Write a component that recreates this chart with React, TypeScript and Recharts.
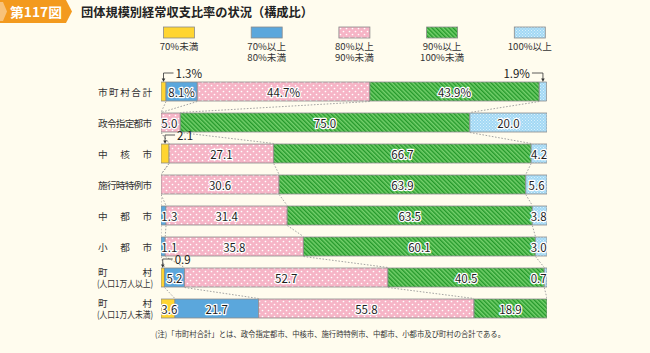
import React from 'react';
import { BarChart, Bar, XAxis, YAxis } from 'recharts';

// ---------------- data ----------------
const categories = [
  '市町村合計',
  '政令指定都市',
  '中核市',
  '施行時特例市',
  '中都市',
  '小都市',
  '町村(人口1万人以上)',
  '町村(人口1万人未満)',
];
const under70 = [1.3, 0, 2.1, 0, 0, 0, 0.9, 3.6];
const from70to80 = [8.1, 0, 0, 0, 1.3, 1.1, 5.2, 21.7];
const from80to90 = [44.7, 5.0, 27.1, 30.6, 31.4, 35.8, 52.7, 55.8];
const from90to100 = [43.9, 75.0, 66.7, 63.9, 63.5, 60.1, 40.5, 18.9];
const over100 = [1.9, 20.0, 4.2, 5.6, 3.8, 3.0, 0.7, 0];

const seriesKeys = ['u70', 'r70', 'r80', 'r90', 'o100'];
const seriesNames = [
  ['70%未満'],
  ['70%以上', '80%未満'],
  ['80%以上', '90%未満'],
  ['90%以上', '100%未満'],
  ['100%以上'],
];
const seriesFills = ['#FFD531', '#5BA7DC', 'pink', 'green', 'sky'];
// values shown as call-outs above the bar: [series, row]
const callouts = [
  [0, 0],
  [4, 0],
  [0, 2],
  [0, 6],
];
const percentRow = 0;

const titleNo = '第117図';
const titleText = '団体規模別経常収支比率の状況（構成比）';
const noteText = '(注)「市町村合計」とは、政令指定都市、中核市、施行時特例市、中都市、小都市及び町村の合計である。';

const seriesValues = [under70, from70to80, from80to90, from90to100, over100];

const rows = categories.map((name, i) => {
  const row: any = { name };
  seriesKeys.forEach((k, s) => (row[k] = seriesValues[s][i]));
  row.total = seriesValues.reduce((a, s) => a + s[i], 0);
  return row;
});

// ---------------- layout ----------------
const W = 650;
const H = 353;
const MARGIN = { top: 76, right: 103, bottom: 29, left: 98 };
const AXIS_W = 63;
const BAR_SIZE = 19;
const BAND = (H - MARGIN.top - MARGIN.bottom) / categories.length;
const FONT = "'Noto Sans CJK JP', 'Noto Sans', sans-serif";
const BG = '#FFFCEE';

function Patterns({ p }: { p: string }) {
  return (
    <defs>
      <pattern id={`${p}pink`} width={6} height={6} patternUnits="userSpaceOnUse">
        <rect width={6} height={6} fill="#F6B4C6" />
        <circle cx={1.5} cy={1.5} r={0.85} fill="#FFFFFF" />
        <circle cx={4.5} cy={4.5} r={0.85} fill="#FFFFFF" />
      </pattern>
      <pattern id={`${p}green`} width={3} height={3} patternUnits="userSpaceOnUse" patternTransform="rotate(-45)">
        <rect width={3} height={3} fill="#74D06C" />
        <rect width={1.4} height={3} fill="#24982A" />
      </pattern>
      <pattern id={`${p}sky`} width={3} height={3} patternUnits="userSpaceOnUse">
        <rect width={3} height={3} fill="#A2D8F4" />
        <rect x={0} y={0} width={1} height={1} fill="#D9F1FC" />
        <rect x={1.5} y={1.5} width={1} height={1} fill="#D9F1FC" />
      </pattern>
    </defs>
  );
}

const fillFor = (s: number, p: string) => {
  const f = seriesFills[s];
  return f.startsWith('#') ? f : `url(#${p}${f})`;
};

function fmt(v: number, row: number) {
  return v.toFixed(1) + (row === percentRow ? '%' : '');
}

function isCallout(s: number, r: number) {
  return callouts.some(([cs, cr]) => cs === s && cr === r);
}

// overlay drawn on top of all stacked segments: labels, connectors, call-outs
function Overlay(props: any) {
  const { x, y, width, height, index } = props;
  const vals = seriesValues.map((s) => s[index]);
  const total = vals.reduce((a, b) => a + b, 0);
  if (!(width > 0) || !total) return null;
  const ppu = width / total;
  const cum: number[] = [];
  vals.reduce((a, b, k) => ((cum[k] = a + b), a + b), 0);
  const els: any[] = [];

  // connectors to next row
  if (index < categories.length - 1) {
    const nv = seriesValues.map((s) => s[index + 1]);
    const ncum: number[] = [];
    nv.reduce((a, b, k) => ((ncum[k] = a + b), a + b), 0);
    for (let k = 0; k < 4; k++) {
      els.push(
        <line
          key={`c${k}`}
          x1={x + cum[k] * ppu}
          y1={y + height + 0.5}
          x2={x + ncum[k] * ppu}
          y2={y + BAND - 0.5}
          stroke="#9A9A9A"
          strokeWidth={0.9}
          strokeDasharray="1.6 1.6"
        />
      );
    }
  }

  const nonzero = vals.map((v, k) => (v > 0 ? k : -1)).filter((k) => k >= 0);
  const first = nonzero[0];
  const last = nonzero[nonzero.length - 1];
  const fs = 11.5;
  vals.forEach((v, k) => {
    if (!(v > 0)) return;
    const start = x + (cum[k] - v) * ppu;
    const w = v * ppu;
    const label = fmt(v, index);
    if (isCallout(k, index)) {
      const cx = start + w / 2;
      const ly = y - 9;
      const left = k !== last;
      const hx = left ? cx + 10 : cx - 11;
      els.push(
        <g key={`co${k}`}>
          <polyline points={`${hx},${ly} ${cx},${ly} ${cx},${y - 3}`} fill="none" stroke="#333" strokeWidth={0.8} />
          <polygon points={`${cx - 1.8},${y - 3.5} ${cx + 1.8},${y - 3.5} ${cx},${y - 0.3}`} fill="#333" />
          <text
            x={left ? hx + 2 : hx - 2}
            y={ly}
            dominantBaseline="central"
            textAnchor={left ? 'start' : 'end'}
            fontSize={fs}
            fontFamily={FONT}
            fill="#222"
          >
            {label}
          </text>
        </g>
      );
      return;
    }
    const tw = label.length * 6.2;
    let anchor = 'middle';
    let tx = start + w / 2;
    if (w < tw + 2) {
      if (k === first) {
        anchor = 'start';
        tx = start + 0.3;
      } else if (k === last) {
        anchor = 'end';
        tx = start + w - 0.3;
      }
    }
    els.push(
      <text
        key={`l${k}`}
        x={tx}
        y={y + height / 2 + 0.5}
        dominantBaseline="central"
        textAnchor={anchor}
        fontSize={fs}
        fontFamily={FONT}
        fill="#1E1E1E"
        stroke="#FFFFFF"
        strokeWidth={2.4}
        strokeLinejoin="round"
        paintOrder="stroke"
      >
        {label}
      </text>
    );
  });
  return <g>{els}</g>;
}

function CategoryTick(props: any) {
  const { y, payload } = props;
  const name: string = payload.value;
  const right = MARGIN.left + AXIS_W - 9;
  const lw = 54;
  const left = right - lw;
  const m = name.match(/^(.*?)(\(.*\))$/);
  const common = { fontFamily: FONT, fill: '#333', dominantBaseline: 'central' as any };
  if (m) {
    return (
      <g>
        <text x={left} y={y - 6} fontSize={9.6} textLength={lw} lengthAdjust="spacing" {...common}>
          {m[1]}
        </text>
        <text x={left - 1} y={y + 5.5} fontSize={9.4} textLength={lw + 2} lengthAdjust="spacingAndGlyphs" {...common}>
          {m[2]}
        </text>
      </g>
    );
  }
  return (
    <text x={left} y={y} fontSize={9.6} textLength={lw} lengthAdjust="spacing" {...common}>
      {name}
    </text>
  );
}

function Decorations() {
  const legendStart = 179;
  const legendStep = 87.7;
  return (
    <svg width={W} height={H} style={{ position: 'absolute', left: 0, top: 0 }}>
      <Patterns p="lg" />
      <rect width={W} height={H} fill={BG} />
      <polygon points="0,0 66,0 72,11.5 66,23 0,23" fill="#F39A1E" />
      <polygon points="0,2 3,2 7,11.5 3,21 0,21" fill="#F8C27A" />
      <text x={10} y={17} fontSize={13} fontWeight="bold" fill="#FFFFFF" fontFamily={FONT} textLength={52} lengthAdjust="spacingAndGlyphs">
        {titleNo}
      </text>
      <text x={81} y={17} fontSize={12.5} fontWeight="bold" fill="#222" fontFamily={FONT} textLength={232} lengthAdjust="spacingAndGlyphs">
        {titleText}
      </text>
      {seriesNames.map((lines, s) => {
        const cx = legendStart + s * legendStep;
        return (
          <g key={s}>
            <rect x={cx - 15.5} y={27} width={31} height={11} fill={fillFor(s, 'lg')} stroke="#8A8A8A" strokeWidth={0.8} />
            {lines.map((t, i) => (
              <text key={i} x={cx} y={50 + i * 11.4} fontSize={9.6} textAnchor="middle" fill="#333" fontFamily={FONT}>
                {t}
              </text>
            ))}
          </g>
        );
      })}
      <text x={155} y={337} fontSize={8} fill="#333" fontFamily={FONT} textLength={350} lengthAdjust="spacingAndGlyphs">
        {noteText}
      </text>
    </svg>
  );
}

export default function App() {
  return (
    <div style={{ position: 'absolute', left: 0, top: 0, width: W, height: H, background: BG, overflow: 'hidden' }}>
      <Decorations />
      <div style={{ position: 'absolute', left: 0, top: 0 }}>
        <BarChart width={W} height={H} data={rows} layout="vertical" margin={MARGIN} barSize={BAR_SIZE}>
          <Patterns p="ch" />
          <XAxis type="number" domain={[0, 100]} allowDataOverflow hide />
          <YAxis
            type="category"
            dataKey="name"
            width={AXIS_W}
            axisLine={false}
            tickLine={false}
            interval={0}
            tick={<CategoryTick />}
          />
          <YAxis yAxisId="ov" type="category" dataKey="name" hide />
          {seriesKeys.map((k, s) => (
            <Bar
              key={k}
              dataKey={k}
              stackId="a"
              fill={fillFor(s, 'ch')}
              stroke="#8A8A8A"
              strokeWidth={0.8}
              isAnimationActive={false}
            />
          ))}
          <Bar yAxisId="ov" dataKey="total" fill="none" isAnimationActive={false} shape={<Overlay />} />
        </BarChart>
      </div>
    </div>
  );
}
